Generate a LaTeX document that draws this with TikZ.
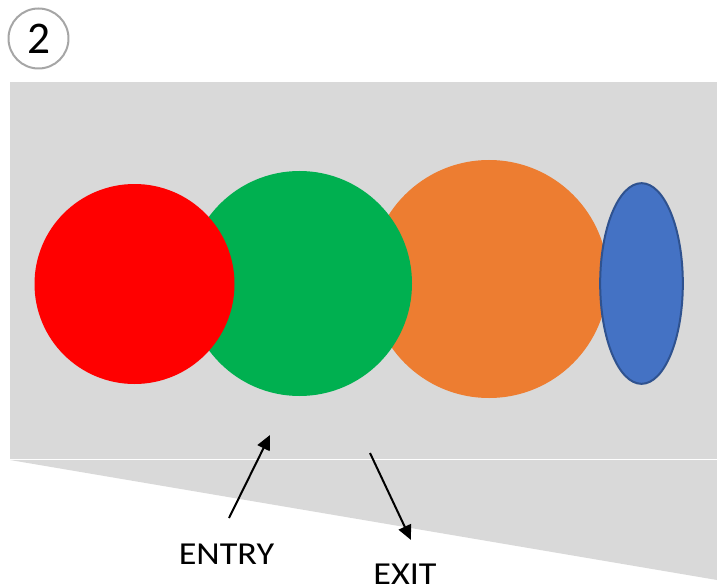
\documentclass[tikz,border=0pt]{standalone}
\usepackage{fontspec}
\setmainfont{Carlito}
\usetikzlibrary{shapes.geometric,arrows.meta}
\definecolor{panelgray}{HTML}{D9D9D9}
\definecolor{ringgray}{HTML}{A6A6A6}
\definecolor{ballred}{HTML}{FF0000}
\definecolor{ballgreen}{HTML}{00B050}
\definecolor{ballorange}{HTML}{ED7D31}
\definecolor{ballblue}{HTML}{4472C4}
\definecolor{edgeblue}{HTML}{2F528F}
\begin{document}
\begin{tikzpicture}[x=0.75pt,y=-0.75pt,line join=round,>={Triangle[width=10pt,length=11pt]}]
				\tikzset{ball/.style={circle,inner sep=0pt,draw=none},
					lbl/.style={font=\fontsize{24}{27}\selectfont,inner sep=0pt,xscale=1.13}}
				\useasboundingbox (0,0) rectangle (717,588);
				% panel
				\fill[panelgray] (10,82) rectangle (717,459);
				\fill[panelgray] (10,460)--(717,460)--(717,580)--cycle;
				% step number
				\node[circle,draw=ringgray,line width=1.5pt,minimum size=45pt,inner sep=0pt,
					font=\fontsize{34}{36}\selectfont] (num) at (38.5,38.5) {2};
				% balls, back to front
				\node[ball,fill=ballorange,minimum size=178.5pt] (orange) at (489,279) {};
				\node[ellipse,fill=ballblue,draw=edgeblue,line width=1.5pt,inner sep=0pt,
					minimum width=62pt,minimum height=150.5pt] (blue) at (641.5,283.5) {};
				\node[ball,fill=ballgreen,minimum size=168.75pt] (green) at (299.5,283.5) {};
				\node[ball,fill=ballred,minimum size=150pt] (red) at (134.5,284) {};
				% labels and arrows
				\node[lbl] (entry) at (226.5,554) {ENTRY};
				\node[lbl] (exit) at (405,574) {EXIT};
				\coordinate (entryA) at (229,518);
				\coordinate (entryB) at (270,435);
				\coordinate (exitA) at (370,453);
				\coordinate (exitB) at (411,540);
				\draw[->,line width=1.5pt] (entryA)--(entryB);
				\draw[->,line width=1.5pt] (exitA)--(exitB);
			\end{tikzpicture}
\end{document}
